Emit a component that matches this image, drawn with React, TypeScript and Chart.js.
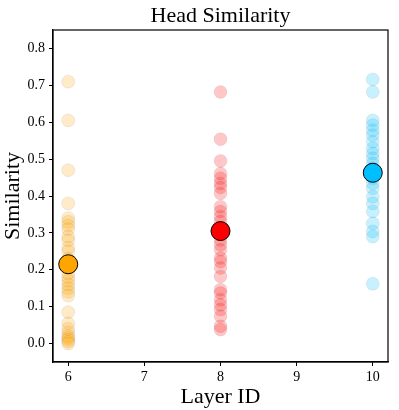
import React, { useEffect, useRef } from "react";
import { Chart, registerables } from "chart.js";

Chart.register(...registerables);

const layerIds = [6, 8, 10];
const layer6Heads = [0.71, 0.605, 0.47, 0.38, 0.34, 0.33, 0.32, 0.31, 0.29, 0.28, 0.26, 0.25, 0.23, 0.21, 0.19, 0.18, 0.17, 0.16, 0.15, 0.14, 0.13, 0.085, 0.055, 0.04, 0.03, 0.02, 0.015, 0.01, 0.005, 0.0];
const layer8Heads = [0.682, 0.554, 0.495, 0.461, 0.448, 0.434, 0.423, 0.407, 0.371, 0.358, 0.344, 0.331, 0.281, 0.268, 0.254, 0.232, 0.222, 0.205, 0.182, 0.146, 0.137, 0.119, 0.105, 0.092, 0.074, 0.047, 0.038];
const layer10Heads = [0.716, 0.682, 0.605, 0.592, 0.578, 0.565, 0.547, 0.529, 0.515, 0.502, 0.488, 0.475, 0.448, 0.434, 0.421, 0.398, 0.38, 0.358, 0.326, 0.304, 0.29, 0.162];
const layerMeans = [0.215, 0.305, 0.463];
const layerColors = ["#FFA500", "#FF0000", "#00BFFF"];
const xTicks = [6, 7, 8, 9, 10];
const yTicks = [0.0, 0.1, 0.2, 0.3, 0.4, 0.5, 0.6, 0.7, 0.8];

const FONT = "'Liberation Serif', 'Times New Roman', serif";

function hexA(hex: string, a: number) {
  const r = parseInt(hex.slice(1, 3), 16);
  const g = parseInt(hex.slice(3, 5), 16);
  const b = parseInt(hex.slice(5, 7), 16);
  return `rgba(${r},${g},${b},${a})`;
}

export default function App() {
  const ref = useRef<HTMLCanvasElement | null>(null);
  useEffect(() => {
    document.body.style.margin = "0";
    const heads = [layer6Heads, layer8Heads, layer10Heads];
    const datasets: any[] = heads.map((vals, i) => ({
      label: `Layer ${layerIds[i]} heads`,
      data: vals.map((v) => ({ x: layerIds[i], y: v })),
      backgroundColor: hexA(layerColors[i], 0.22),
      borderColor: "rgba(0,0,0,0.06)",
      borderWidth: 1,
      pointRadius: 6.5,
      order: 2,
    }));
    layerIds.forEach((id, i) => {
      datasets.push({
        label: `Layer ${id} mean`,
        data: [{ x: id, y: layerMeans[i] }],
        backgroundColor: layerColors[i],
        borderColor: "#000",
        borderWidth: 1,
        pointRadius: 9.5,
        order: 1,
      });
    });
    const frame = {
      id: "frame",
      afterDraw(chart: any) {
        const { ctx, chartArea: a } = chart;
        ctx.save();
        ctx.strokeStyle = "#000";
        ctx.lineWidth = 1.2;
        ctx.strokeRect(a.left, a.top, a.right - a.left, a.bottom - a.top);
        ctx.fillStyle = "#000";
        ctx.font = `22px ${FONT}`;
        ctx.textAlign = "center";
        ctx.textBaseline = "alphabetic";
        ctx.fillText("Head Similarity", (a.left + a.right) / 2, 22);
        ctx.restore();
      },
    };
    const chart = new Chart(ref.current!, {
      type: "scatter",
      data: { datasets },
      plugins: [frame],
      options: {
        animation: false,
        responsive: false,
        layout: { padding: { top: 30, right: 11, left: 0, bottom: 0 } },
        plugins: { legend: { display: false }, tooltip: { enabled: false } },
        scales: {
          x: {
            type: "linear",
            min: 5.8,
            max: 10.2,
            afterBuildTicks: (s: any) => {
              s.ticks = xTicks.map((v) => ({ value: v }));
            },
            afterFit: (s: any) => {
              s.height = 48;
            },
            grid: { display: true, drawOnChartArea: false, drawTicks: true, tickLength: 4, color: "#000" },
            border: { display: true, color: "#000", width: 1.2 },
            ticks: { color: "#000", font: { family: FONT, size: 14 }, padding: 3, callback: (v: any) => String(v) },
            title: { display: true, text: "Layer ID", color: "#000", font: { family: FONT, size: 22 }, padding: { top: 3, bottom: 0 } },
          },
          y: {
            type: "linear",
            min: -0.05,
            max: 0.85,
            afterBuildTicks: (s: any) => {
              s.ticks = yTicks.map((v) => ({ value: v }));
            },
            afterFit: (s: any) => {
              s.width = 53;
            },
            grid: { display: true, drawOnChartArea: false, drawTicks: true, tickLength: 4, color: "#000" },
            border: { display: true, color: "#000", width: 1.2 },
            ticks: { color: "#000", font: { family: FONT, size: 14 }, padding: 4, callback: (v: any) => Number(v).toFixed(1) },
            title: { display: true, text: "Similarity", color: "#000", font: { family: FONT, size: 22 }, padding: { top: 0, bottom: 0 } },
          },
        },
      },
    });
    return () => chart.destroy();
  }, []);
  return (
    <div style={{ width: 399, height: 410 }}>
      <canvas ref={ref} width={399} height={410} />
    </div>
  );
}
